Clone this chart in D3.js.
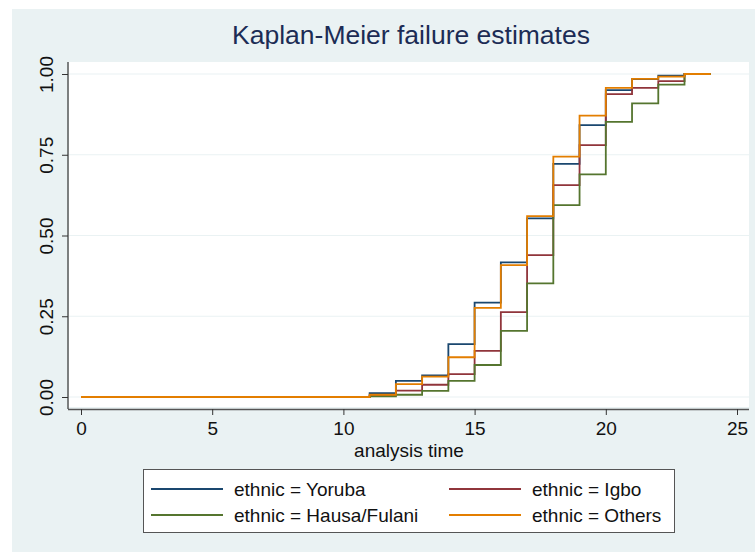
<!DOCTYPE html>
<html>
<head>
<meta charset="utf-8">
<script src="https://cdn.jsdelivr.net/npm/d3@7"></script>
<style>
  body { margin: 0; background: #fff; }
  svg { display: block; font-family: "Liberation Sans", Arial, sans-serif; }
</style>
</head>
<body>
<div id="chart"></div>
<script>
// failure estimates at each step time (value holds until next time)
const times = [0, 11, 12, 13, 14, 15, 16, 17, 18, 19, 20, 21, 22, 23, 24];
const yoruba = [0, 0.012, 0.050, 0.067, 0.164, 0.292, 0.417, 0.553, 0.722, 0.842, 0.950, 0.984, 0.995, 1.0, 1.0];
const igbo   = [0, 0.004, 0.020, 0.038, 0.071, 0.143, 0.263, 0.439, 0.656, 0.780, 0.938, 0.957, 0.978, 1.0, 1.0];
const hausa  = [0, 0.002, 0.007, 0.019, 0.050, 0.099, 0.205, 0.352, 0.594, 0.689, 0.852, 0.909, 0.967, 1.0, 1.0];
const others = [0, 0.007, 0.040, 0.063, 0.123, 0.276, 0.408, 0.560, 0.744, 0.871, 0.957, 0.985, 0.992, 1.0, 1.0];

const seriesNames = ["ethnic = Yoruba", "ethnic = Igbo", "ethnic = Hausa/Fulani", "ethnic = Others"];
const colors = ["#1a476f", "#90353b", "#55752f", "#e37e00"];
const xTicks = [0, 5, 10, 15, 20, 25];
const yTicks = [0, 0.25, 0.5, 0.75, 1];

const width = 755, height = 555;
const plot = {left: 68, right: 749, top: 62, bottom: 409};
const fontSize = 19;

const svg = d3.select("#chart").append("svg")
    .attr("width", width)
    .attr("height", height);

// outer graph region
svg.append("rect")
    .attr("x", 12).attr("y", 9)
    .attr("width", width - 12).attr("height", height - 12)
    .attr("fill", "#eaf2f3");

svg.append("rect")
    .attr("x", plot.left + 1).attr("y", plot.top)
    .attr("width", plot.right - plot.left - 1).attr("height", plot.bottom - plot.top - 2)
    .attr("fill", "#fff");

const x = d3.scaleLinear().domain([0, 25]).range([81, 737]);
const y = d3.scaleLinear().domain([0, 1]).range([397, 74]);

// gridlines
svg.append("g")
    .selectAll("line")
    .data(yTicks)
    .join("line")
    .attr("x1", plot.left + 1).attr("x2", plot.right)
    .attr("y1", d => y(d)).attr("y2", d => y(d))
    .attr("stroke", "#eaf2f3").attr("stroke-width", 1.2);

// axes
const xAxis = svg.append("g")
    .attr("transform", `translate(0, ${plot.bottom})`)
    .call(d3.axisBottom(x).tickValues(xTicks).tickSize(6).tickPadding(7).tickSizeOuter(0));
xAxis.select(".domain").attr("d", `M${plot.left},0.5H${plot.right}`).attr("stroke", "#555").attr("stroke-width", 1.4);
xAxis.selectAll(".tick line").attr("stroke", "#333");
xAxis.selectAll("text").attr("font-size", fontSize).attr("fill", "#111");

const yAxis = svg.append("g")
    .attr("transform", `translate(${plot.left}, 0)`)
    .call(d3.axisLeft(y).tickValues(yTicks).tickFormat(d3.format(".2f")).tickSize(6).tickSizeOuter(0));
yAxis.select(".domain").attr("d", `M0,${plot.top}V${plot.bottom}`).attr("stroke", "#333").attr("stroke-width", 1.2);
yAxis.selectAll(".tick line").attr("stroke", "#333");
yAxis.selectAll("text")
    .attr("font-size", fontSize).attr("fill", "#111")
    .attr("text-anchor", "middle")
    .attr("x", 0).attr("dy", 0)
    .attr("transform", "translate(-15,0) rotate(-90)");

// step lines
const series = [yoruba, igbo, hausa, others];
const line = d3.line()
    .x((d, i) => x(times[i]))
    .y(d => y(d))
    .curve(d3.curveStepAfter);

svg.append("g")
    .selectAll("path")
    .data(series)
    .join("path")
    .attr("d", d => line(d))
    .attr("fill", "none")
    .attr("stroke", (d, i) => colors[i])
    .attr("stroke-width", 1.8);

// title and axis title
svg.append("text")
    .attr("x", 411).attr("y", 44)
    .attr("text-anchor", "middle")
    .attr("font-size", 26.5)
    .attr("fill", "#1c2c55")
    .text("Kaplan-Meier failure estimates");

svg.append("text")
    .attr("x", 409).attr("y", 457)
    .attr("text-anchor", "middle")
    .attr("font-size", fontSize)
    .attr("fill", "#111")
    .text("analysis time");

// legend
const legend = svg.append("g");
legend.append("rect")
    .attr("x", 143.5).attr("y", 469.5)
    .attr("width", 531).attr("height", 63)
    .attr("fill", "#fff").attr("stroke", "#555").attr("stroke-width", 1);

const legendItems = legend.selectAll("g.item")
    .data(seriesNames)
    .join("g")
    .attr("class", "item")
    .attr("transform", (d, i) => `translate(${i % 2 === 0 ? 151 : 449}, ${i < 2 ? 489 : 515})`);

legendItems.append("line")
    .attr("x1", 0).attr("x2", 72)
    .attr("stroke", (d, i) => colors[i]).attr("stroke-width", 1.8);

legendItems.append("text")
    .attr("x", 83).attr("y", 7)
    .attr("font-size", fontSize)
    .attr("fill", "#111")
    .text(d => d);
</script>
</body>
</html>
